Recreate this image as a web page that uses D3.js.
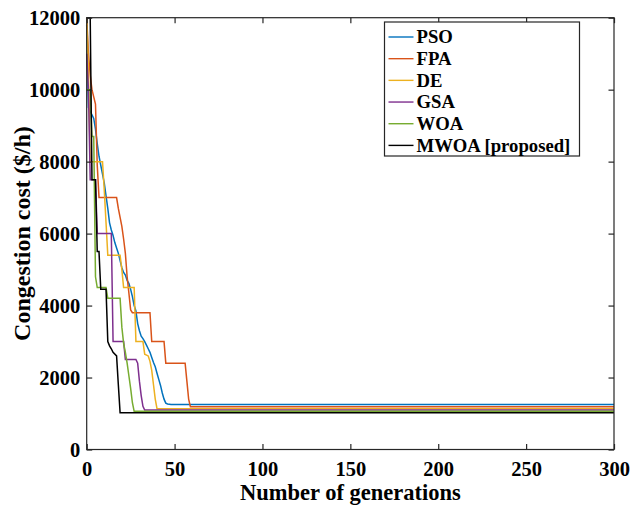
<!DOCTYPE html>
<html>
<head>
<meta charset="utf-8">
<script src="https://cdn.jsdelivr.net/npm/d3@7"></script>
<style>
  html, body { margin: 0; padding: 0; background: #fff; }
  svg { display: block; }
  text { font-family: "Liberation Serif", "Times New Roman", serif; font-weight: bold; fill: #000; }
</style>
</head>
<body>
<svg id="chart" width="630" height="507"></svg>
<script>
// Convergence of congestion cost per algorithm: [generation, cost ($/h)]
const pso = [[0,11800],[1,9500],[2,9400],[3,9300],[4,9200],[5,8900],[6,8500],[7,8150],[8,7900],[9,7650],[10,7400],[11,7050],[12,6700],[13,6300],[14,6100],[15,5950],[16,5750],[17,5600],[18,5450],[19,5250],[20,5050],[21,4920],[22,4850],[23,4700],[24,4620],[25,4450],[26,4250],[27,4000],[28,3850],[29,3500],[30,3300],[31,3150],[32,3080],[33,3000],[34,2900],[35,2800],[36,2700],[37,2560],[38,2420],[39,2300],[40,2120],[41,1950],[42,1780],[43,1570],[44,1400],[45,1290],[46,1265],[48,1250],[300,1250]];
const fpa = [[0,12000],[1,11000],[2,10400],[3,10000],[4,9800],[5,9600],[6,7900],[7,7000],[17,7000],[18,6700],[19,6450],[20,6200],[21,5850],[22,5450],[23,4800],[24,4350],[25,3880],[26,3800],[36,3800],[37,3000],[44,3000],[45,2400],[56,2400],[57,1900],[58,1400],[59,1190],[300,1190]];
const de = [[0,12000],[1,10500],[2,8000],[9,8000],[10,7200],[11,6300],[12,5400],[19,5400],[20,5000],[21,4500],[27,4500],[28,3000],[32,3000],[33,2650],[35,2600],[36,2450],[37,2200],[38,1800],[39,1400],[40,1135],[300,1135]];
const gsa = [[0,11000],[1,10000],[2,7500],[5,7500],[6,6000],[14,6000],[15,3000],[21,3000],[22,2500],[28,2500],[29,2400],[30,1900],[31,1500],[32,1200],[33,1095],[300,1095]];
const woa = [[0,10000],[2,10000],[3,8700],[4,8700],[5,4800],[6,4500],[11,4500],[12,4200],[19,4200],[20,3400],[21,2950],[22,2700],[23,2400],[24,2050],[25,1700],[26,1300],[27,1060],[300,1060]];
const mwoa = [[0,12000],[2,12000],[3,7500],[5,7500],[6,5500],[7,5500],[8,4450],[11,4450],[12,3000],[13,2880],[14,2800],[15,2700],[17,2600],[18,1800],[19,1020],[300,1020]];

const seriesNames = ["PSO", "FPA", "DE", "GSA", "WOA", "MWOA [proposed]"];
const seriesData = [pso, fpa, de, gsa, woa, mwoa];
const seriesColors = ["#0072BD", "#D95319", "#EDB120", "#7E2F8E", "#77AC30", "#000000"];

const xTicks = [0, 50, 100, 150, 200, 250, 300];
const yTicks = [0, 2000, 4000, 6000, 8000, 10000, 12000];

const svg = d3.select("#chart");
const plot = { left: 86.7, right: 614, top: 17.7, bottom: 449.5 };

const x = d3.scaleLinear().domain([0, 300]).range([plot.left, plot.right]);
const y = d3.scaleLinear().domain([0, 12000]).range([plot.bottom, plot.top]);

const axisColor = "#262626";
const tickLen = 5.5;

// curves
const line = d3.line().x(d => x(d[0])).y(d => y(d[1]));
const curves = svg.append("g");
seriesData.forEach((data, i) => {
  curves.append("path")
    .datum(data)
    .attr("d", line)
    .attr("fill", "none")
    .attr("stroke", seriesColors[i])
    .attr("stroke-width", 1.5)
    .attr("stroke-linejoin", "miter");
});

// axes with inward ticks on all four sides
function styleAxis(g) {
  g.select(".domain").remove();
  g.selectAll(".tick line").attr("stroke", axisColor).attr("stroke-width", 1.2);
  g.selectAll(".tick text")
    .attr("fill", "#000")
    .style("font-family", '"Liberation Serif", "Times New Roman", serif')
    .style("font-weight", "bold")
    .style("font-size", "20.5px");
}

svg.append("g")
  .attr("transform", `translate(0,${plot.bottom})`)
  .call(d3.axisBottom(x).tickValues(xTicks).tickSizeInner(-tickLen).tickSizeOuter(0).tickPadding(12).tickFormat(d3.format("d")))
  .call(styleAxis);

svg.append("g")
  .attr("transform", `translate(0,${plot.top})`)
  .call(d3.axisTop(x).tickValues(xTicks).tickSizeInner(-tickLen).tickSizeOuter(0).tickFormat(""))
  .call(styleAxis);

svg.append("g")
  .attr("transform", `translate(${plot.left},0)`)
  .call(d3.axisLeft(y).tickValues(yTicks).tickSizeInner(-tickLen).tickSizeOuter(0).tickPadding(6.5).tickFormat(d3.format("d")))
  .call(styleAxis);

svg.append("g")
  .attr("transform", `translate(${plot.right},0)`)
  .call(d3.axisRight(y).tickValues(yTicks).tickSizeInner(-tickLen).tickSizeOuter(0).tickFormat(""))
  .call(styleAxis);

// axes box
svg.append("rect")
  .attr("x", plot.left).attr("y", plot.top)
  .attr("width", plot.right - plot.left).attr("height", plot.bottom - plot.top)
  .attr("fill", "none").attr("stroke", axisColor).attr("stroke-width", 1.2);

// axis titles
svg.append("text")
  .attr("x", (plot.left + plot.right) / 2)
  .attr("y", 500)
  .attr("text-anchor", "middle")
  .style("font-size", "22.5px")
  .text("Number of generations");

svg.append("text")
  .attr("transform", `translate(30,${(plot.top + plot.bottom) / 2}) rotate(-90)`)
  .attr("text-anchor", "middle")
  .style("font-size", "24px")
  .text("Congestion cost ($/h)");

// legend
const legend = svg.append("g");
const lgBox = { x: 384.5, y: 22, w: 195, h: 134 };
legend.append("rect")
  .attr("x", lgBox.x).attr("y", lgBox.y)
  .attr("width", lgBox.w).attr("height", lgBox.h)
  .attr("fill", "#fff").attr("stroke", axisColor).attr("stroke-width", 1.2);

const rowY = d3.scaleLinear().domain([0, 5]).range([37, 145.4]);
seriesNames.forEach((name, i) => {
  legend.append("line")
    .attr("x1", 388.5).attr("x2", 413.5)
    .attr("y1", rowY(i)).attr("y2", rowY(i))
    .attr("stroke", seriesColors[i]).attr("stroke-width", 1.4);
  legend.append("text")
    .attr("x", 416.5).attr("y", rowY(i))
    .attr("dy", "0.33em")
    .style("font-size", "18.7px")
    .text(name);
});
</script>
</body>
</html>
